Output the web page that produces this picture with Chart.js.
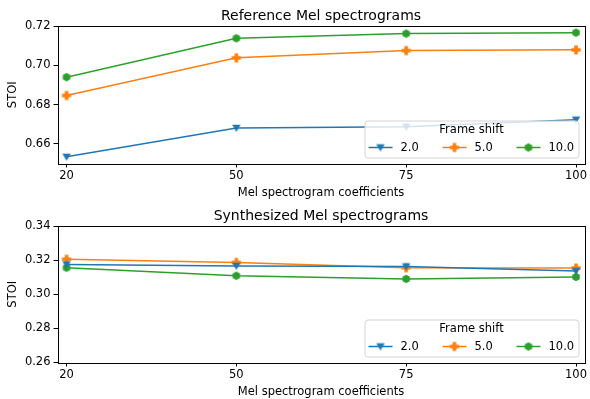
<!DOCTYPE html>
<html lang="en">
<head>
  <meta charset="UTF-8">
  <title>STOI vs Mel spectrogram coefficients</title>
  <script src="https://cdn.jsdelivr.net/npm/chart.js"></script>
  <style>
    html, body { margin: 0; padding: 0; background: #fff; }
    .box { width: 590px; position: relative; }
    #top { height: 200px; }
    #bottom { height: 199px; }
  </style>
</head>
<body>
  <div class="box" id="top"><canvas id="refChart"></canvas></div>
  <div class="box" id="bottom"><canvas id="synChart"></canvas></div>

  <script>
    // data
    const coeffs = [20, 50, 75, 100];
    const shiftLabels = ['2.0', '5.0', '10.0'];

    const refShift2  = [0.6532, 0.6680, 0.6686, 0.6722];
    const refShift5  = [0.6846, 0.7039, 0.7076, 0.7080];
    const refShift10 = [0.6940, 0.7139, 0.7163, 0.7168];

    const synShift2  = [0.3175, 0.3166, 0.3163, 0.3136];
    const synShift5  = [0.3206, 0.3187, 0.3156, 0.3154];
    const synShift10 = [0.3156, 0.3109, 0.3090, 0.3102];

    const refTicks = [0.66, 0.68, 0.70, 0.72];
    const synTicks = [0.26, 0.28, 0.30, 0.32, 0.34];

    const FONT = "'DejaVu Sans', sans-serif";
    const colors = ['#1f77b4', '#ff7f0e', '#2ca02c'];

    // marker images (matplotlib v, P, h)
    function makeMarker(kind, color) {
      const s = 12, c = document.createElement('canvas');
      c.width = s; c.height = s;
      const g = c.getContext('2d');
      g.fillStyle = color;
      g.beginPath();
      if (kind === 'v') {
        g.moveTo(1.8, 2.8); g.lineTo(10.2, 2.8); g.lineTo(6, 10);
      } else if (kind === 'P') {
        const a = 1.8, b = 4.6, m = 6;
        g.moveTo(m - a, m - b); g.lineTo(m + a, m - b); g.lineTo(m + a, m - a);
        g.lineTo(m + b, m - a); g.lineTo(m + b, m + a); g.lineTo(m + a, m + a);
        g.lineTo(m + a, m + b); g.lineTo(m - a, m + b); g.lineTo(m - a, m + a);
        g.lineTo(m - b, m + a); g.lineTo(m - b, m - a); g.lineTo(m - a, m - a);
      } else {
        for (let i = 0; i < 6; i++) {
          const ang = Math.PI / 2 + i * Math.PI / 3;
          const x = 6 + 4.3 * Math.cos(ang), y = 6 + 4.3 * Math.sin(ang);
          if (i === 0) g.moveTo(x, y); else g.lineTo(x, y);
        }
      }
      g.closePath();
      g.fill();
      return c;
    }
    const markers = [makeMarker('v', colors[0]), makeMarker('P', colors[1]), makeMarker('h', colors[2])];

    function series(vals) {
      return vals.map((v, i) => ({ x: i, y: v }));
    }

    // frame box, title and in-axes legend
    const decor = {
      id: 'decor',
      afterDraw(chart, args, opts) {
        const g = chart.ctx, a = chart.chartArea;
        g.save();
        g.strokeStyle = '#000';
        g.lineWidth = 1;
        g.strokeRect(Math.round(a.left) + 0.5, Math.round(a.top) + 0.5,
                     Math.round(a.right - a.left), Math.round(a.bottom - a.top));

        g.fillStyle = '#000';
        g.font = '14px ' + FONT;
        g.textAlign = 'center';
        g.textBaseline = 'alphabetic';
        g.fillText(opts.title, (a.left + a.right) / 2, a.top - 6);

        // legend
        const w = 214, h = 37;
        const x0 = a.right - 6 - w, y0 = a.bottom - 6 - h;
        g.globalAlpha = 0.8;
        g.fillStyle = '#fff';
        g.beginPath();
        g.roundRect(x0 + 0.5, y0 + 0.5, w, h, 3);
        g.fill();
        g.globalAlpha = 1;
        g.strokeStyle = '#d4d4d4';
        g.stroke();

        g.fillStyle = '#000';
        g.font = '11.5px ' + FONT;
        g.textBaseline = 'middle';
        g.fillText('Frame shift', x0 + w / 2, y0 + 10);

        const starts = [4, 78, 152];
        chart.data.datasets.forEach((ds, i) => {
          const lx = x0 + starts[i], ly = y0 + 27;
          g.strokeStyle = ds.borderColor;
          g.lineWidth = 1.5;
          g.beginPath();
          g.moveTo(lx, ly); g.lineTo(lx + 24, ly);
          g.stroke();
          g.drawImage(ds.pointStyle, lx + 12 - 6, ly - 6);
          g.fillStyle = '#000';
          g.textAlign = 'left';
          g.fillText(ds.label, lx + 32, ly + 1);
        });
        g.restore();
      }
    };

    function makeChart(id, title, sets, yMin, yMax, yTicks) {
      return new Chart(document.getElementById(id), {
        type: 'line',
        data: {
          datasets: sets.map((vals, i) => ({
            label: shiftLabels[i],
            data: series(vals),
            borderColor: colors[i],
            backgroundColor: colors[i],
            borderWidth: 1.5,
            pointStyle: markers[i],
            pointRadius: 4,
            tension: 0
          }))
        },
        options: {
          responsive: true,
          maintainAspectRatio: false,
          animation: false,
          events: [],
          layout: { padding: { left: 6, right: 5, top: 26, bottom: 0 } },
          plugins: {
            legend: { display: false },
            tooltip: { enabled: false },
            decor: { title: title }
          },
          scales: {
            x: {
              type: 'linear',
              min: -0.053,
              max: 3.05,
              afterBuildTicks: s => { s.ticks = coeffs.map((c, i) => ({ value: i })); },
              afterFit: s => { s.height = 36.5; },
              ticks: {
                callback: (v) => coeffs[v],
                color: '#000',
                font: { family: FONT, size: 11.5 },
                padding: 2,
                maxRotation: 0,
                autoSkip: false
              },
              grid: { display: true, drawOnChartArea: false, drawTicks: true, tickLength: 4, color: '#000' },
              border: { display: false },
              title: {
                display: true,
                text: 'Mel spectrogram coefficients',
                color: '#000',
                font: { family: FONT, size: 11.5 },
                padding: { top: 0, bottom: 0 }
              }
            },
            y: {
              min: yMin,
              max: yMax,
              afterBuildTicks: s => { s.ticks = yTicks.map(v => ({ value: v })); },
              afterFit: s => { s.width = 51.5; },
              ticks: {
                callback: v => v.toFixed(2),
                color: '#000',
                font: { family: FONT, size: 11.5 },
                padding: 3
              },
              grid: { display: true, drawOnChartArea: false, drawTicks: true, tickLength: 4, color: '#000' },
              border: { display: false },
              title: {
                display: true,
                text: 'STOI',
                color: '#000',
                font: { family: FONT, size: 11.5 },
                padding: { top: 0, bottom: 4 }
              }
            }
          }
        },
        plugins: [decor]
      });
    }

    makeChart('refChart', 'Reference Mel spectrograms',
      [refShift2, refShift5, refShift10], 0.6498, 0.7202, refTicks);
    makeChart('synChart', 'Synthesized Mel spectrograms',
      [synShift2, synShift5, synShift10], 0.2599, 0.3401, synTicks);
  </script>
</body>
</html>
